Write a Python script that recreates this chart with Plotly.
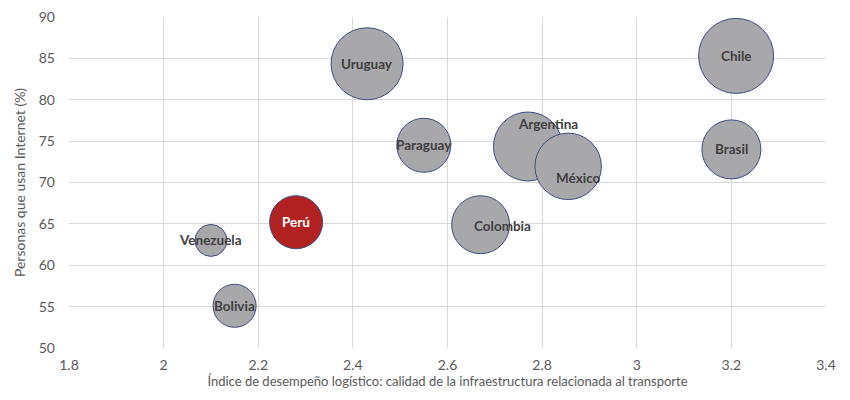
import plotly.graph_objects as go

paises = ["Chile", "Brasil", "Uruguay", "Paraguay", "Argentina", "México",
          "Colombia", "Perú", "Venezuela", "Bolivia"]
infraestructura = [3.21, 3.20, 2.43, 2.55, 2.77, 2.855, 2.67, 2.28, 2.10, 2.15]
internet = [85.3, 74.0, 84.35, 74.5, 74.35, 71.95, 64.9, 65.2, 63.0, 55.1]
tamano = [5.63, 3.48, 5.18, 2.92, 4.76, 4.42, 3.36, 2.81, 1.02, 1.85]

x_ticks = [1.8, 2, 2.2, 2.4, 2.6, 2.8, 3, 3.2, 3.4]
y_ticks = [50, 55, 60, 65, 70, 75, 80, 85, 90]

GRAY = "#A8A8AA"
RED = "#B22222"
fills = [RED if p == "Perú" else GRAY for p in paises]

# label offsets in px (style)
offsets = {"Argentina": (20, -23), "México": (10, 12), "Colombia": (22, 1)}

fig = go.Figure()
fig.add_trace(go.Scatter(
    x=infraestructura, y=internet, mode="markers",
    marker=dict(size=tamano, sizemode="area", sizeref=0.002,
                color=fills, opacity=1,
                line=dict(color="#3E4C7E", width=1)),
    hoverinfo="text", text=paises, showlegend=False,
))

for p, xv, yv in zip(paises, infraestructura, internet):
    dx, dy = offsets.get(p, (0, 0))
    fig.add_annotation(
        x=xv, y=yv, text=f"<b>{p}</b>", showarrow=False,
        xshift=dx, yshift=-dy,
        font=dict(family="Lato", size=13.5,
                  color="white" if p == "Perú" else "#404040"),
    )

fig.update_layout(
    width=850, height=400,
    margin=dict(l=61, r=32, t=9, b=60, autoexpand=False),
    paper_bgcolor="white", plot_bgcolor="white",
    font=dict(family="Lato", size=14, color="#595959"),
    xaxis=dict(range=[1.8, 3.4], tickvals=x_ticks,
               ticktext=[str(v) for v in x_ticks],
               showgrid=True, gridcolor="#D9D9D9", gridwidth=1,
               zeroline=False, showline=False, ticks="",
               ticklabelstandoff=7, automargin=False,
               title=dict(text="Índice de desempeño logístico: calidad de la infraestructura relacionada al transporte",
                          font=dict(size=13, color="#595959"), standoff=2)),
    yaxis=dict(range=[50, 90], tickvals=y_ticks,
               showgrid=True, gridcolor="#D9D9D9", gridwidth=1,
               zeroline=False, showline=False, ticks="",
               ticklabelstandoff=13, automargin=False,
               ticklabeloverflow="allow",
               title=dict(text="Personas que usan Internet (%)",
                          font=dict(size=14, color="#595959"), standoff=9)),
)

fig.write_html("out.html")
